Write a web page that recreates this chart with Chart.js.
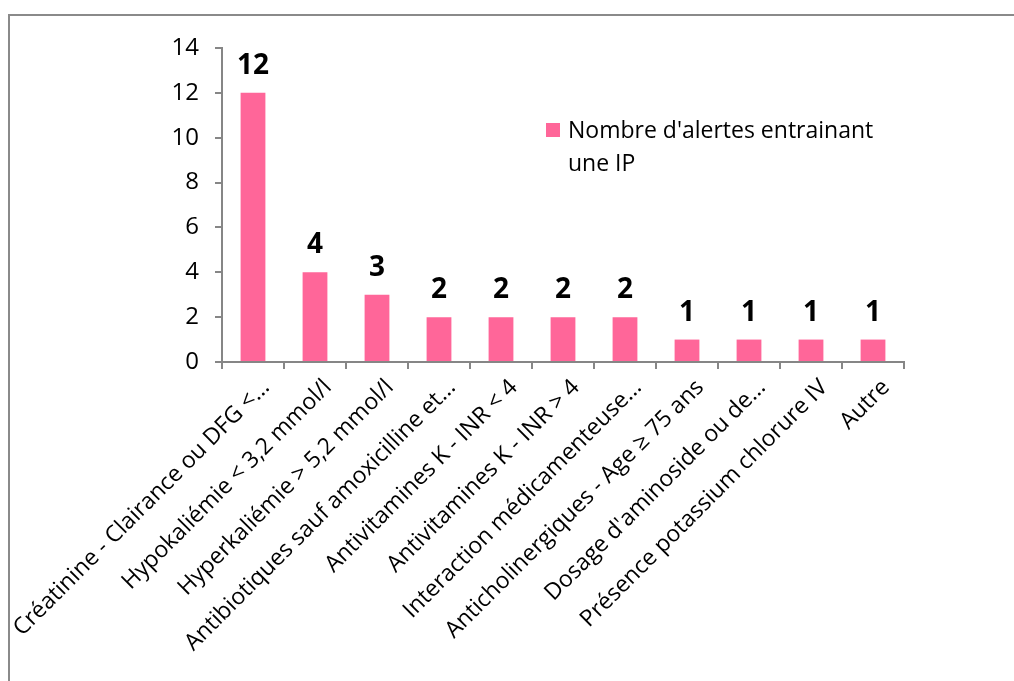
<!DOCTYPE html>
<html>
<head>
<meta charset="utf-8">
<script src="https://cdn.jsdelivr.net/npm/chart.js@4"></script>
<style>
    html, body { margin: 0; padding: 0; background: #fff; overflow: hidden; }
    #wrap { position: relative; width: 1014px; height: 681px; }
    #frame {
        position: absolute; left: 8px; top: 14px; width: 1020px; height: 700px;
        border: 2px solid #8a8a8a; pointer-events: none;
    }
    canvas { position: absolute; left: 0; top: 0; }
</style>
</head>
<body>
<div id="wrap">
    <canvas id="chart" width="1014" height="681"></canvas>
    <div id="frame"></div>
</div>
<script>
const FONT = "'Open Sans', 'DejaVu Sans', sans-serif";
const BAR_COLOR = '#FF6699';
const AXIS_COLOR = '#868686';

const categories = [
    'Créatinine - Clairance ou DFG <...',
    'Hypokaliémie < 3,2 mmol/l',
    'Hyperkaliémie > 5,2 mmol/l',
    'Antibiotiques sauf amoxicilline et...',
    'Antivitamines K - INR < 4',
    'Antivitamines K - INR > 4',
    'Interaction médicamenteuse...',
    'Anticholinergiques - Age ≥ 75 ans',
    "Dosage d'aminoside ou de...",
    'Présence potassium chlorure IV',
    'Autre',
];
const alertCounts = [12, 4, 3, 2, 2, 2, 2, 1, 1, 1, 1];
const seriesLabel = ["Nombre d'alertes entrainant", 'une IP'];
const yTicks = [0, 2, 4, 6, 8, 10, 12, 14];

// values above the bars
const valueLabels = {
    id: 'valueLabels',
    afterDatasetsDraw(chart) {
        const ctx = chart.ctx;
        const meta = chart.getDatasetMeta(0);
        ctx.save();
        ctx.font = `bold 28px ${FONT}`;
        ctx.fillStyle = '#000';
        ctx.textAlign = 'center';
        ctx.textBaseline = 'alphabetic';
        meta.data.forEach((bar, i) => {
            ctx.fillText(String(alertCounts[i]), bar.x, bar.y - 19);
        });
        ctx.restore();
    },
};

// two-line legend drawn inside the plot area, like the Excel original
const sideLegend = {
    id: 'sideLegend',
    afterDraw(chart) {
        const ctx = chart.ctx;
        const area = chart.chartArea;
        const x = area.left + 324;
        const y = area.top + 75;
        ctx.save();
        ctx.fillStyle = chart.data.datasets[0].backgroundColor;
        ctx.fillRect(x, y, 14, 14);
        ctx.fillStyle = '#000';
        ctx.font = `23px ${FONT}`;
        ctx.textAlign = 'left';
        ctx.textBaseline = 'alphabetic';
        seriesLabel.forEach((line, i) => {
            ctx.fillText(line, x + 22, y + 15 + i * 33);
        });
        ctx.restore();
    },
};

new Chart(document.getElementById('chart'), {
    type: 'bar',
    data: {
        labels: categories,
        datasets: [{
            label: seriesLabel.join(' '),
            data: alertCounts,
            backgroundColor: BAR_COLOR,
            borderWidth: 0,
            barPercentage: 0.4,
            categoryPercentage: 1,
        }],
    },
    options: {
        responsive: false,
        animation: false,
        devicePixelRatio: 1,
        layout: { padding: { top: 48, right: 110, left: 0, bottom: 0 } },
        plugins: {
            legend: { display: false },
            tooltip: { enabled: false },
        },
        scales: {
            x: {
                grid: {
                    drawOnChartArea: false,
                    drawTicks: true,
                    tickLength: 7,
                    color: AXIS_COLOR,
                    lineWidth: 2,
                    offset: true,
                },
                border: { color: AXIS_COLOR, width: 2 },
                ticks: {
                    autoSkip: false,
                    maxRotation: 45,
                    minRotation: 45,
                    color: '#000',
                    font: { family: FONT, size: 23 },
                    padding: 5,
                    labelOffset: 13,
                },
                afterFit(scale) {
                    scale.height = 681 - 362;
                    scale.paddingLeft = 0;
                    scale.paddingRight = 0;
                },
            },
            y: {
                min: 0,
                max: 14,
                afterBuildTicks(scale) {
                    scale.ticks = yTicks.map(v => ({ value: v }));
                },
                grid: {
                    drawOnChartArea: false,
                    drawTicks: true,
                    tickLength: 7,
                    color: AXIS_COLOR,
                    lineWidth: 2,
                },
                border: { color: AXIS_COLOR, width: 2 },
                ticks: {
                    color: '#000',
                    font: { family: FONT, size: 24 },
                    padding: 16,
                },
                afterFit(scale) {
                    scale.width = 222;
                    scale.paddingTop = 0;
                    scale.paddingBottom = 0;
                },
            },
        },
    },
    plugins: [valueLabels, sideLegend],
});
</script>
</body>
</html>
